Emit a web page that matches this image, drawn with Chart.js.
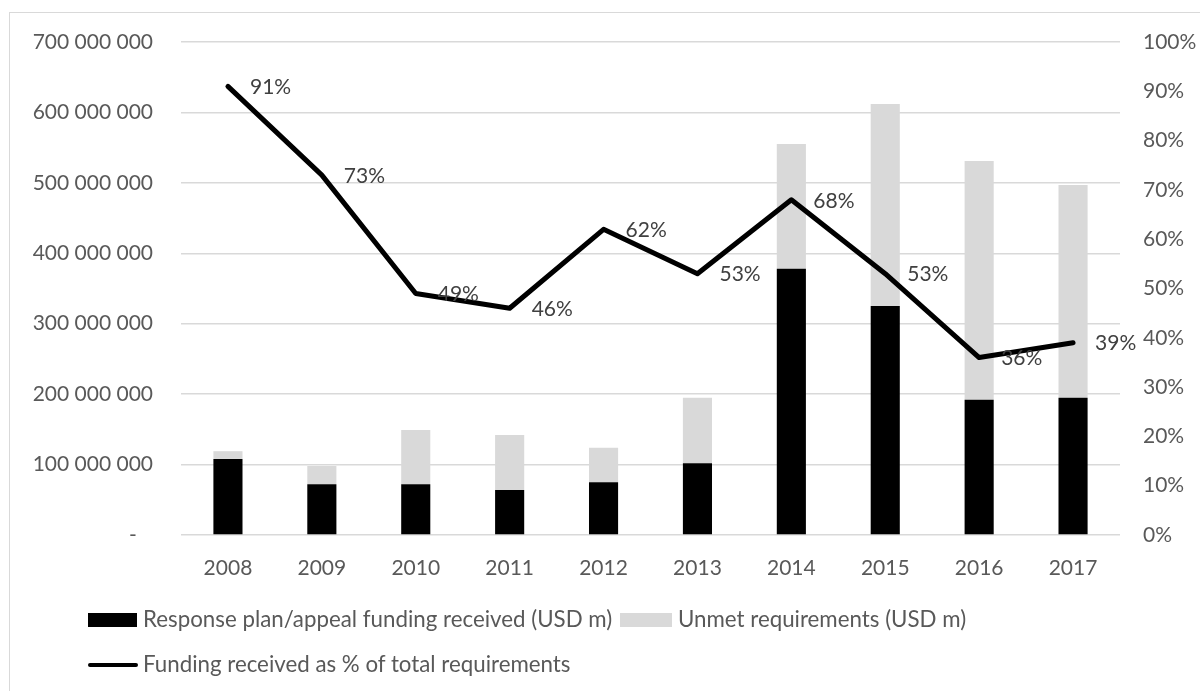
<!DOCTYPE html>
<html>
<head>
<meta charset="utf-8">
<script src="https://cdn.jsdelivr.net/npm/chart.js@4.4.0/dist/chart.umd.min.js"></script>
<style>
  html, body { margin: 0; padding: 0; background: #fff; }
  #wrap { position: relative; width: 1200px; height: 691px; overflow: hidden; }
  #frame { position: absolute; left: 9px; top: 12px; width: 1300px; height: 800px; border: 1.5px solid #d9d9d9; box-sizing: border-box; }
  canvas { position: absolute; left: 0; top: 0; }
  .leg { position: absolute; font-family: Lato, "Open Sans", sans-serif; font-size: 22.3px; color: #595959; white-space: nowrap; line-height: 1; }
  .key { position: absolute; }
</style>
</head>
<body>
<div id="wrap">
  <div id="frame"></div>
  <canvas id="c" width="1200" height="691"></canvas>
  <div class="key" style="left:88px; top:613px; width:49px; height:14px; background:#000;"></div>
  <div class="leg" id="l1" style="left:143px; top:608px;"></div>
  <div class="key" style="left:620px; top:613px; width:52px; height:14px; background:#d9d9d9;"></div>
  <div class="leg" id="l2" style="left:678px; top:608px;"></div>
  <div class="key" style="left:88px; top:663px; width:50px; height:4px; background:#000; border-radius:2px;"></div>
  <div class="leg" id="l3" style="left:143px; top:653px;"></div>
</div>
<script>
const categories = ["2008","2009","2010","2011","2012","2013","2014","2015","2016","2017"];
const fundingReceived = [108000000, 72000000, 72000000, 64000000, 75000000, 102000000, 378000000, 325000000, 192000000, 195000000];
const unmetRequirements = [11000000, 26000000, 77000000, 78000000, 49000000, 93000000, 177000000, 287000000, 339000000, 302000000];
const fundingPercent = [91, 73, 49, 46, 62, 53, 68, 53, 36, 39];
const leftTicks = [0, 100000000, 200000000, 300000000, 400000000, 500000000, 600000000, 700000000];
const rightTicks = [0,10,20,30,40,50,60,70,80,90,100];
const seriesNames = ["Response plan/appeal funding received (USD m)", "Unmet requirements (USD m)", "Funding received as % of total requirements"];

document.getElementById('l1').textContent = seriesNames[0];
document.getElementById('l2').textContent = seriesNames[1];
document.getElementById('l3').textContent = seriesNames[2];

const FONT = "Lato, 'Open Sans', sans-serif";
const TXT = "#595959";

function fmtSpace(v) {
  if (v === 0) return "-   ";
  return String(Math.round(v)).replace(/\B(?=(\d{3})+(?!\d))/g, " ");
}

const labelPlugin = {
  id: 'pctLabels',
  afterDatasetsDraw(chart) {
    const meta = chart.getDatasetMeta(2);
    const ctx = chart.ctx;
    ctx.save();
    ctx.font = "21px " + FONT;
    ctx.fillStyle = "#404040";
    ctx.textAlign = "left";
    ctx.textBaseline = "middle";
    meta.data.forEach((pt, i) => {
      ctx.fillText(fundingPercent[i] + "%", pt.x + 22, pt.y + 1);
    });
    ctx.restore();
  }
};

new Chart(document.getElementById('c'), {
  data: {
    labels: categories,
    datasets: [
      { type: 'bar', label: seriesNames[0], data: fundingReceived, backgroundColor: '#000000', yAxisID: 'y', stack: 's', order: 2, barPercentage: 0.31, categoryPercentage: 1 },
      { type: 'bar', label: seriesNames[1], data: unmetRequirements, backgroundColor: '#d9d9d9', yAxisID: 'y', stack: 's', order: 3, barPercentage: 0.31, categoryPercentage: 1 },
      { type: 'line', label: seriesNames[2], data: fundingPercent, borderColor: '#000000', borderWidth: 5, pointRadius: 0, tension: 0, yAxisID: 'y1', order: 1, borderCapStyle: 'round', borderJoinStyle: 'round' }
    ]
  },
  options: {
    responsive: false,
    animation: false,
    devicePixelRatio: 1,
    layout: { padding: { left: 0, right: 0, top: 42, bottom: 116 } },
    plugins: { legend: { display: false }, tooltip: { enabled: false } },
    scales: {
      x: {
        stacked: true,
        grid: { display: false, drawTicks: false },
        border: { display: false },
        ticks: { color: TXT, font: { family: FONT, size: 21 }, padding: 21, maxRotation: 0 },
        afterFit(s) { s.height = 40; }
      },
      y: {
        stacked: true,
        position: 'left',
        min: 0, max: 700000000,
        afterBuildTicks(s) { s.ticks = leftTicks.map(v => ({ value: v })); },
        grid: { color: '#d9d9d9', lineWidth: 1.5, drawTicks: false },
        border: { display: false },
        ticks: { color: TXT, font: { family: FONT, size: 21 }, padding: 28, callback: v => fmtSpace(v) },
        afterFit(s) { s.width = 181; }
      },
      y1: {
        position: 'right',
        min: 0, max: 100,
        afterBuildTicks(s) { s.ticks = rightTicks.map(v => ({ value: v })); },
        grid: { display: false, drawTicks: false },
        border: { display: false },
        ticks: { color: TXT, font: { family: FONT, size: 21 }, padding: 23, callback: v => v + "%" },
        afterFit(s) { s.width = 80; }
      }
    }
  },
  plugins: [labelPlugin]
});
</script>
</body>
</html>
